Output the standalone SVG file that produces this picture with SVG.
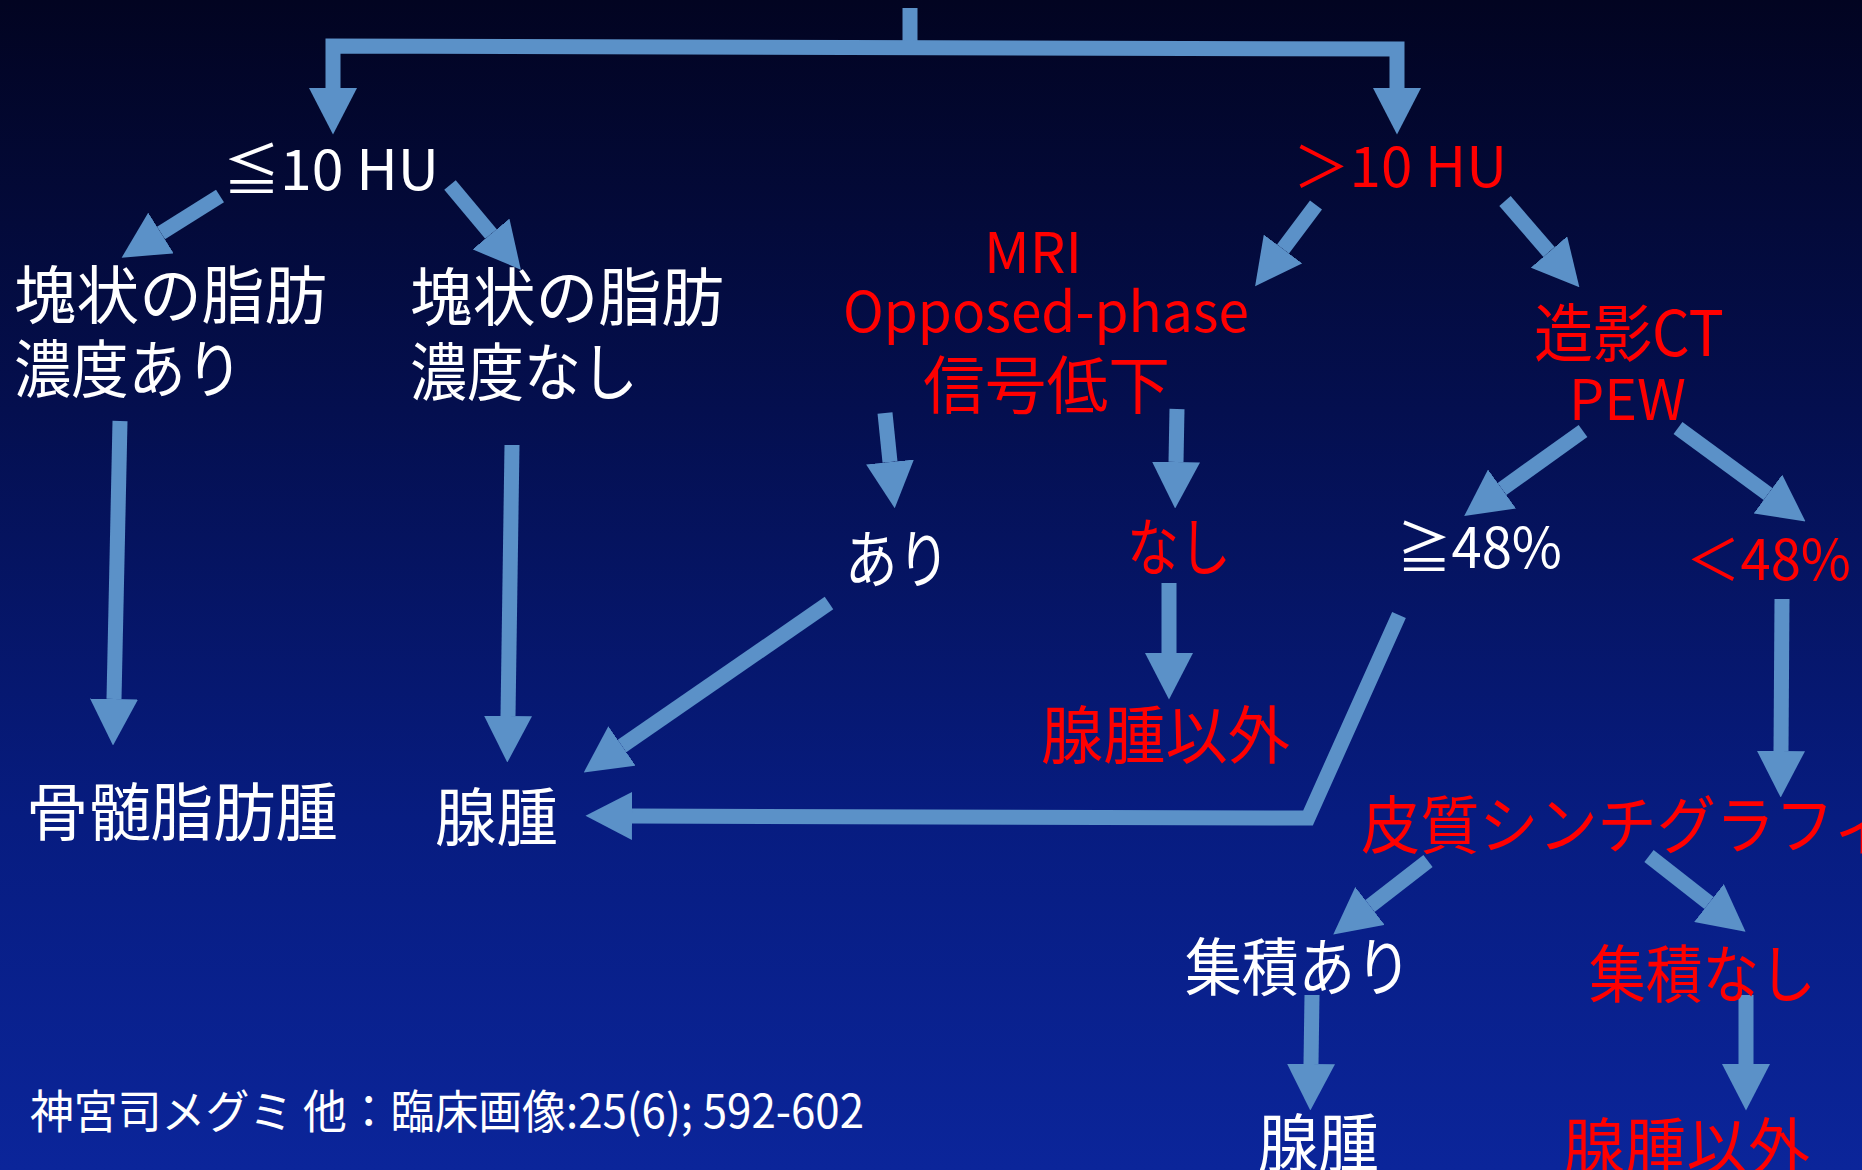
<svg xmlns="http://www.w3.org/2000/svg" width="1862" height="1170" viewBox="0 0 1862 1170">
<defs>
<linearGradient id="bg" x1="0" y1="0" x2="0" y2="1">
<stop offset="0" stop-color="#020421"/>
<stop offset="0.35" stop-color="#040f4f"/>
<stop offset="0.7" stop-color="#071c80"/>
<stop offset="1" stop-color="#0b259a"/>
</linearGradient>
<marker id="ah" viewBox="0 0 3.1 3.2" refX="0" refY="1.6" markerWidth="3.1" markerHeight="3.2" markerUnits="strokeWidth" orient="auto-start-reverse">
<path d="M0,0 L3.1,1.6 L0,3.2 z" fill="#5b91c8"/>
</marker>
<style>
.c{fill:none;stroke:#5b91c8;stroke-width:15;stroke-linejoin:miter}
.a{marker-end:url(#ah)}
.t{font-family:"Noto Sans CJK JP","Noto Sans",sans-serif;font-size:63px;fill:#ffffff}
.l{font-size:56px}
.r{fill:#ff0000}
.cite{font-size:46px}
</style>
</defs>
<rect width="1862" height="1170" fill="url(#bg)"/>
<g id="connectors">
<path class="c" d="M910,8 L910,46"/>
<path class="c" d="M333,88 L333,46 L1397,49 L1397,88" marker-start="url(#ah)" marker-end="url(#ah)"/>
<path class="c a" d="M220,196 L161,233"/>
<path class="c a" d="M450,185 L491,234"/>
<path class="c a" d="M120,421 L114,699"/>
<path class="c a" d="M512,445 L508,716"/>
<path class="c a" d="M1316,205 L1283,249"/>
<path class="c a" d="M1505,201 L1549,252"/>
<path class="c a" d="M885,413 L890,462"/>
<path class="c a" d="M1177,409 L1176,462"/>
<path class="c a" d="M1169,583 L1169,653"/>
<path class="c a" d="M829,603 L622,746"/>
<path class="c a" d="M1399,615 L1308,818 L632,816"/>
<path class="c a" d="M1583,431 L1502,489"/>
<path class="c a" d="M1678,428 L1768,494"/>
<path class="c a" d="M1782,599 L1781,751"/>
<path class="c a" d="M1428,861 L1370,906"/>
<path class="c a" d="M1649,856 L1709,903"/>
<path class="c a" d="M1312,995 L1311,1064"/>
<path class="c a" d="M1746,995 L1746,1064"/>
</g>
<g id="n_le10"><text class="t l" x="223" y="190" textLength="216" lengthAdjust="spacingAndGlyphs">≦10 HU</text></g>
<g id="n_fat_yes"><text class="t" x="14" y="318" textLength="313" lengthAdjust="spacingAndGlyphs">塊状の脂肪</text><text class="t" x="14" y="392" textLength="229" lengthAdjust="spacingAndGlyphs">濃度あり</text></g>
<g id="n_fat_no"><text class="t" x="410" y="320" textLength="314" lengthAdjust="spacingAndGlyphs">塊状の脂肪</text><text class="t" x="410" y="395" textLength="228" lengthAdjust="spacingAndGlyphs">濃度なし</text></g>
<g id="n_myelolipoma"><text class="t" x="26" y="835" textLength="312" lengthAdjust="spacingAndGlyphs">骨髄脂肪腫</text></g>
<g id="n_adenoma1"><text class="t" x="435" y="840" textLength="123" lengthAdjust="spacingAndGlyphs">腺腫</text></g>
<g id="n_gt10"><text class="t l r" x="1293" y="187" textLength="214" lengthAdjust="spacingAndGlyphs">＞10 HU</text></g>
<g id="n_mri"><text class="t l r" x="984" y="273" textLength="98" lengthAdjust="spacingAndGlyphs">MRI</text><text class="t l r" x="843" y="332" textLength="406" lengthAdjust="spacingAndGlyphs">Opposed-phase</text><text class="t r" x="923" y="408" textLength="247" lengthAdjust="spacingAndGlyphs">信号低下</text></g>
<g id="n_ari"><text class="t" x="845" y="582" textLength="105" lengthAdjust="spacingAndGlyphs">あり</text></g>
<g id="n_nashi"><text class="t r" x="1127" y="570" textLength="104" lengthAdjust="spacingAndGlyphs">なし</text></g>
<g id="n_nonadenoma1"><text class="t r" x="1041" y="758" textLength="249" lengthAdjust="spacingAndGlyphs">腺腫以外</text></g>
<g id="n_ct"><text class="t r" x="1534" y="356" textLength="190" lengthAdjust="spacingAndGlyphs">造影CT</text><text class="t l r" x="1569" y="420" textLength="117" lengthAdjust="spacingAndGlyphs">PEW</text></g>
<g id="n_ge48"><text class="t l" x="1397" y="568" textLength="165" lengthAdjust="spacingAndGlyphs">≧48%</text></g>
<g id="n_lt48"><text class="t l r" x="1686" y="580" textLength="165" lengthAdjust="spacingAndGlyphs">＜48%</text></g>
<g id="n_scinti"><text class="t r" x="1361" y="848" font-size="61" textLength="531" lengthAdjust="spacingAndGlyphs">皮質シンチグラフィ</text></g>
<g id="n_uptake_yes"><text class="t" x="1185" y="990" textLength="227" lengthAdjust="spacingAndGlyphs">集積あり</text></g>
<g id="n_uptake_no"><text class="t r" x="1589" y="997" textLength="227" lengthAdjust="spacingAndGlyphs">集積なし</text></g>
<g id="n_adenoma2"><text class="t" x="1258" y="1166" textLength="121" lengthAdjust="spacingAndGlyphs">腺腫</text></g>
<g id="n_nonadenoma2"><text class="t r" x="1563" y="1170" textLength="247" lengthAdjust="spacingAndGlyphs">腺腫以外</text></g>
<g id="citation"><text class="t cite" x="30" y="1128" textLength="834" lengthAdjust="spacingAndGlyphs">神宮司メグミ 他：臨床画像:25(6); 592-602</text></g>
</svg>
